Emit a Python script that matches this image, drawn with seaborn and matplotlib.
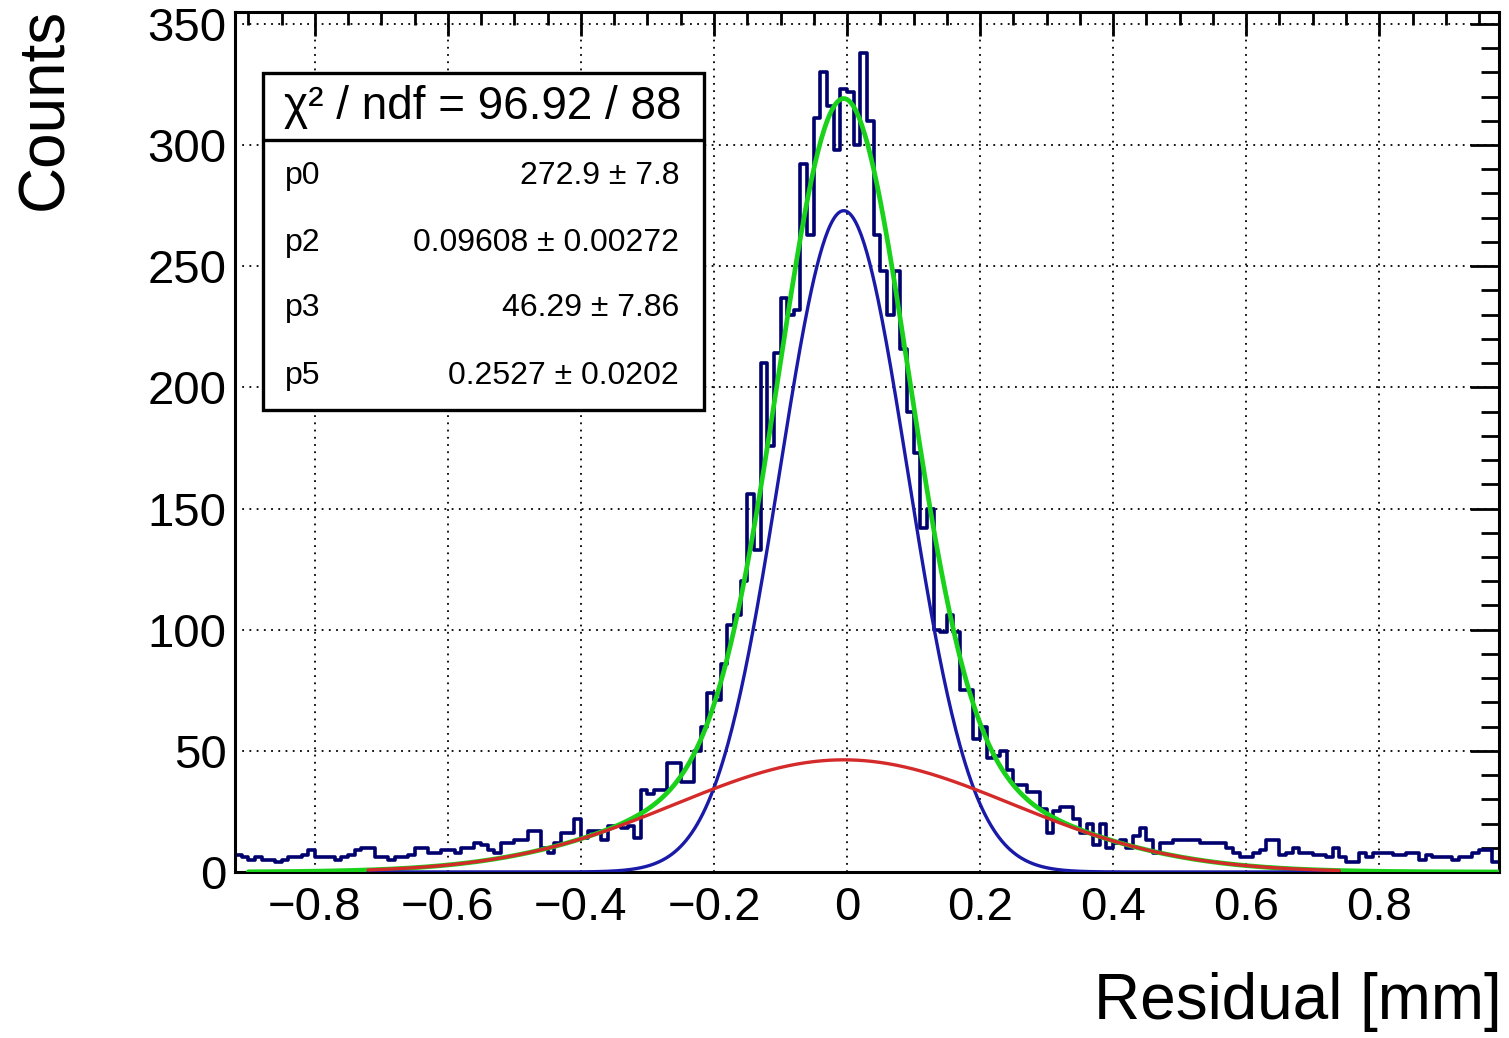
import numpy as np
import pandas as pd
import matplotlib
matplotlib.use("Agg")
import matplotlib.pyplot as plt
from matplotlib.ticker import MultipleLocator, FuncFormatter
from matplotlib.patches import Rectangle
from matplotlib.lines import Line2D
import seaborn as sns

# ---------------- data ----------------
x_min, x_max = -0.92, 0.98
n_bins = 190
counts = [
    7, 6, 5, 6, 5, 5, 4, 5, 6, 6,
    7, 9, 6, 6, 6, 5, 6, 7, 9, 10,
    10, 6, 6, 5, 6, 6, 7, 10, 10, 8,
    8, 9, 9, 8, 10, 10, 12, 11, 9, 8,
    12, 12, 13, 13, 17, 17, 10, 8, 12, 16,
    16, 22, 14, 17, 17, 13, 19, 19, 18, 19,
    14, 34, 32, 34, 34, 45, 45, 37, 37, 50,
    60, 74, 71, 86, 102, 106, 120, 156, 133, 210,
    176, 214, 237, 230, 232, 292, 263, 311, 330, 316,
    298, 323, 322, 300, 338, 310, 263, 248, 230, 248,
    216, 190, 173, 142, 150, 100, 99, 106, 99, 75,
    75, 55, 60, 47, 48, 50, 42, 36, 36, 33,
    33, 26, 16, 25, 27, 27, 22, 16, 20, 11,
    20, 10, 12, 13, 10, 15, 18, 13, 8, 12,
    12, 13, 13, 13, 13, 12, 12, 12, 12, 10,
    8, 6, 6, 8, 9, 13, 13, 7, 8, 10,
    8, 8, 7, 7, 6, 10, 6, 4, 4, 8,
    6, 8, 8, 8, 7, 7, 8, 8, 5, 7,
    6, 6, 6, 5, 6, 6, 8, 9, 9, 4,
]
# fit parameters (stats box) ; mean
p0, p2 = 272.9, 0.09608      # narrow gaussian: amplitude, sigma
p3, p5 = 46.29, 0.2527       # wide gaussian: amplitude, sigma
mean = -0.005
comp_range = (-0.72, 0.74)
total_range = (-0.90, 0.98)

stat_title = "\u03c7\u00b2 / ndf = 96.92 / 88"
stat_names = ["p0", "p2", "p3", "p5"]
stat_values = ["272.9 \u00b1 7.8", "0.09608 \u00b1 0.00272",
               "46.29 \u00b1 7.86", "0.2527 \u00b1 0.0202"]
x_label = "Residual [mm]"
y_label = "Counts"

# ---------------- style ----------------
sns.set_style("white")
plt.rcParams["font.family"] = ["Liberation Sans", "DejaVu Sans"]
plt.rcParams["axes.unicode_minus"] = True
plt.rcParams["text.color"] = "black"
plt.rcParams["axes.labelcolor"] = "black"
plt.rcParams["xtick.color"] = "black"
plt.rcParams["ytick.color"] = "black"

W, H = 1509, 1038
fig = plt.figure(figsize=(W / 100, H / 100), dpi=100)
ax = fig.add_axes([235 / W, 1 - 872 / H, 1264 / W, 860 / H])

edges = np.linspace(x_min, x_max, n_bins + 1)
centers = 0.5 * (edges[:-1] + edges[1:])
df = pd.DataFrame({"x": centers, "w": np.asarray(counts, dtype=float)})

sns.histplot(data=df, x="x", weights="w", bins=[float(e) for e in edges],
             element="step", fill=False, color="#00006e", linewidth=2.6,
             ax=ax, zorder=2)


def g(x, a, s):
    return a * np.exp(-0.5 * ((x - mean) / s) ** 2)


xt = np.linspace(total_range[0], total_range[1], 800)
xc = np.linspace(comp_range[0], comp_range[1], 700)
sns.lineplot(x=xt, y=g(xt, p0, p2) + g(xt, p3, p5), color="#19d219",
             linewidth=3.4, ax=ax, zorder=3)
sns.lineplot(x=xc, y=g(xc, p0, p2), color="#1a1aa8", linewidth=2.4,
             ax=ax, zorder=4)
sns.lineplot(x=xc, y=g(xc, p3, p5), color="#d42a2a", linewidth=2.4,
             ax=ax, zorder=5)

ax.set_xlim(x_min, x_max)
ax.set_ylim(0, 354.9)
ax.set_xlabel("")
ax.set_ylabel("")

ax.xaxis.set_major_locator(MultipleLocator(0.2))
ax.xaxis.set_minor_locator(MultipleLocator(0.05))
ax.yaxis.set_major_locator(MultipleLocator(50))
ax.yaxis.set_minor_locator(MultipleLocator(10))


def xfmt(v, pos):
    if abs(v) < 1e-9:
        return "0"
    return ("%.1f" % v).replace("-", "\u2212")


ax.xaxis.set_major_formatter(FuncFormatter(xfmt))
ax.yaxis.set_major_formatter(FuncFormatter(lambda v, p: "%d" % round(v)))

ax.tick_params(which="both", direction="in", top=True, right=True,
               colors="black", labelcolor="black", width=2.0)
ax.tick_params(axis="x", which="major", length=17, pad=10, labelsize=34)
ax.tick_params(axis="x", which="minor", length=9)
ax.tick_params(axis="y", which="major", length=21, pad=6, labelsize=34)
ax.tick_params(axis="y", which="minor", length=13)
for sp in ax.spines.values():
    sp.set_visible(True)
    sp.set_color("black")
    sp.set_linewidth(2.2)

ax.grid(True, which="major", color="black", linestyle=(0, (1, 3)),
        linewidth=1.3)
ax.set_axisbelow(True)

# axis titles
fig.text(45 / W, 1 - 8 / H, y_label, rotation=90, ha="center", va="top",
         fontsize=46, color="black")
fig.text(1502 / W, 1 - 1002 / H, x_label, ha="right", va="center",
         fontsize=46, color="black")


# ---------------- stats box ----------------
def P(x, y):
    return (x / W, 1 - y / H)


bx0, by0, bx1, by1 = 263, 73, 704, 410
x0f, y1f = P(bx0, by1)
fig.patches.append(Rectangle((x0f, y1f), (bx1 - bx0) / W, (by1 - by0) / H,
                             transform=fig.transFigure, facecolor="white",
                             edgecolor="black", linewidth=2.4, zorder=10))
fig.lines.append(Line2D([bx0 / W, bx1 / W], [1 - 140 / H, 1 - 140 / H],
                        transform=fig.transFigure, color="black",
                        linewidth=2.4, zorder=11))
tx, ty = P(483, 107)
fig.text(tx, ty, stat_title, ha="center", va="center", fontsize=33,
         color="black", zorder=12)
row_y = [176, 243, 308, 376]
for name, val, yy in zip(stat_names, stat_values, row_y):
    nx, ny = P(285, yy)
    fig.text(nx, ny, name, ha="left", va="center", fontsize=23,
             color="black", zorder=12)
    vx, vy = P(679, yy)
    fig.text(vx, vy, val, ha="right", va="center", fontsize=23,
             color="black", zorder=12)

fig.savefig("out.png", dpi=100, facecolor="white")
